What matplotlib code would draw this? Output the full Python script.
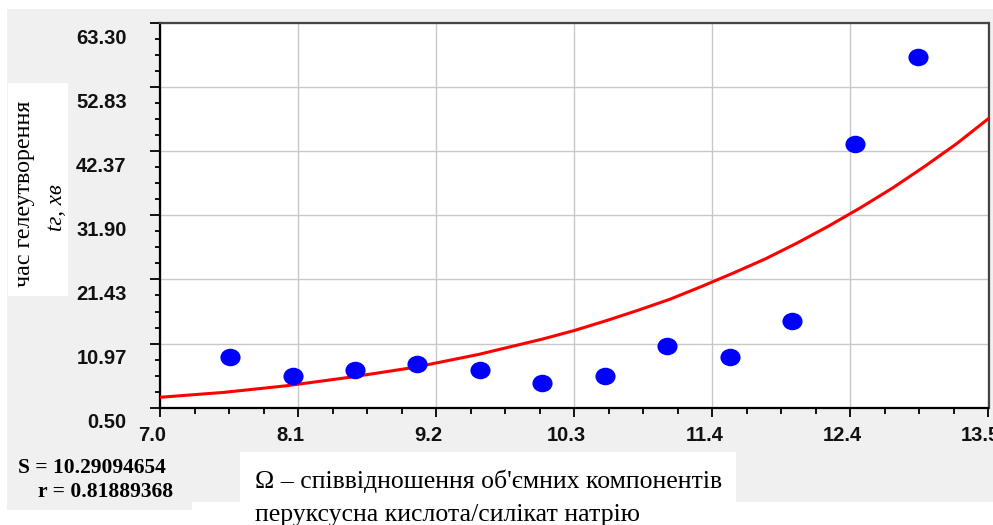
import matplotlib
matplotlib.use("Agg")
import matplotlib.pyplot as plt
from matplotlib.patches import Rectangle
from matplotlib.path import Path
from matplotlib.transforms import Affine2D, ScaledTranslation
from matplotlib.ticker import AutoMinorLocator
import numpy as np


# measured points (Omega, gel time)
pts_x = [7.55, 8.04, 8.53, 9.02, 9.51, 10.0, 10.49, 10.98, 11.47, 11.96, 12.45, 12.95]
pts_y = [8.7, 5.6, 6.6, 7.7, 6.6, 4.6, 5.6, 10.5, 8.7, 14.6, 43.6, 57.7]

# fitted curve
curve_x = [7.0, 7.5, 8.0, 8.5, 9.0, 9.5, 10.0, 10.25, 10.5, 10.75, 11.0, 11.25, 11.5,
           11.75, 12.0, 12.25, 12.5, 12.75, 13.0, 13.25, 13.5]
curve_y = [2.2, 3.0, 4.1, 5.5, 7.1, 9.2, 11.7, 13.1, 14.7, 16.4, 18.2, 20.3, 22.5,
           24.8, 27.4, 30.2, 33.2, 36.4, 39.9, 43.6, 47.7]

x_ticklabels = ["7.0", "8.1", "9.2", "10.3", "11.4", "12.4", "13.5"]
y_ticklabels = ["0.50", "10.97", "21.43", "31.90", "42.37", "52.83", "63.30"]
x_lim = (7.0, 13.5)
y_lim = (0.50, 63.30)

stat_s = "S = 10.29094654"
stat_r = "r = 0.81889368"
xlabel_1 = "Ω – співвідношення об'ємних компонентів"
xlabel_2 = "перуксусна кислота/силікат натрію"
ylabel_1 = "час гелеутворення"
ylabel_2 = "tг, хв"

W, H = 993, 525


def fx(x):
    return x / W


def fy(y):
    return 1 - y / H


fig = plt.figure(figsize=(W / 100, H / 100), dpi=100)
fig.patch.set_facecolor("white")

# grey panel + white boxes behind the labels
gray = "#f0f0f0"
fig.add_artist(Rectangle((fx(7), fy(502)), fx(986), 493 / H, transform=fig.transFigure,
                         facecolor=gray, edgecolor="none", zorder=-10))
fig.add_artist(Rectangle((fx(7), fy(510)), fx(185), 60 / H, transform=fig.transFigure,
                         facecolor=gray, edgecolor="none", zorder=-10))
fig.add_artist(Rectangle((fx(240), fy(525)), fx(496), 73 / H, transform=fig.transFigure,
                         facecolor="white", edgecolor="none", zorder=-5))
fig.add_artist(Rectangle((fx(8), fy(296)), fx(60), 213 / H, transform=fig.transFigure,
                         facecolor="white", edgecolor="none", zorder=-5))

ax = fig.add_axes([fx(160), fy(407.7), fx(828.5), 384.7 / H])
ax.set_facecolor("white")
ax.set_zorder(1)

ax.plot(curve_x, curve_y, color="#ff0000", lw=2.2, zorder=3, clip_on=True)

ellipse = Path.unit_circle().transformed(Affine2D().scale(1.0, 0.87))
ax.plot(pts_x, pts_y, linestyle="none", marker=ellipse, markersize=14.5,
        color="#0000ff", markeredgewidth=0, zorder=4)

ax.set_xlim(*x_lim)
ax.set_ylim(*y_lim)
ax.set_xticks(np.linspace(x_lim[0], x_lim[1], len(x_ticklabels)))
ax.set_xticklabels(x_ticklabels)
ax.set_yticks(np.linspace(y_lim[0], y_lim[1], len(y_ticklabels)))
ax.set_yticklabels(y_ticklabels)
ax.xaxis.set_minor_locator(AutoMinorLocator(4))
ax.yaxis.set_minor_locator(AutoMinorLocator(4))

ax.grid(True, which="major", color="#c8c8c8", lw=1.0)
ax.set_axisbelow(True)

for lab in ax.get_xticklabels() + ax.get_yticklabels():
    lab.set_fontfamily("Liberation Sans")
    lab.set_fontweight("bold")
    lab.set_fontsize(14.5)
    lab.set_color("#111111")

ax.tick_params(axis="y", which="major", direction="out", length=7, width=1.3, pad=17)
ax.tick_params(axis="y", which="minor", direction="out", length=3.8, width=1.3)
ax.tick_params(axis="x", which="major", direction="out", length=6.5, width=1.3, pad=7)
ax.tick_params(axis="x", which="minor", direction="out", length=4.5, width=1.3)

for side in ["left", "bottom"]:
    ax.spines[side].set_color("black")
    ax.spines[side].set_linewidth(1.6)
for side in ["top", "right"]:
    ax.spines[side].set_color("#444444")
    ax.spines[side].set_linewidth(1.6)

# the labels in the original sit a bit off their ticks
y_shift = ScaledTranslation(0, -0.13, fig.dpi_scale_trans)
for lab in ax.get_yticklabels():
    lab.set_transform(lab.get_transform() + y_shift)
x_shift = ScaledTranslation(-0.08, 0, fig.dpi_scale_trans)
for lab in ax.get_xticklabels():
    lab.set_transform(lab.get_transform() + x_shift)

# axis titles and fit stats
fig.text(fx(25), fy(194), ylabel_1, rotation=90, ha="center", va="center",
         family="Liberation Serif", fontsize=17.3)
fig.text(fx(56), fy(208), ylabel_2, rotation=90, ha="center", va="center",
         family="Liberation Serif", style="italic", fontsize=16.5)

fig.text(fx(255), fy(481), xlabel_1, ha="left", va="center",
         family="Liberation Serif", fontsize=18.5)
fig.text(fx(255), fy(515), xlabel_2, ha="left", va="center",
         family="Liberation Serif", fontsize=18.5)

fig.text(fx(18), fy(468), stat_s, ha="left", va="center",
         family="Liberation Serif", weight="bold", fontsize=15.5)
fig.text(fx(38), fy(492), stat_r, ha="left", va="center",
         family="Liberation Serif", weight="bold", fontsize=15.5)

fig.savefig("out.png", dpi=100)
